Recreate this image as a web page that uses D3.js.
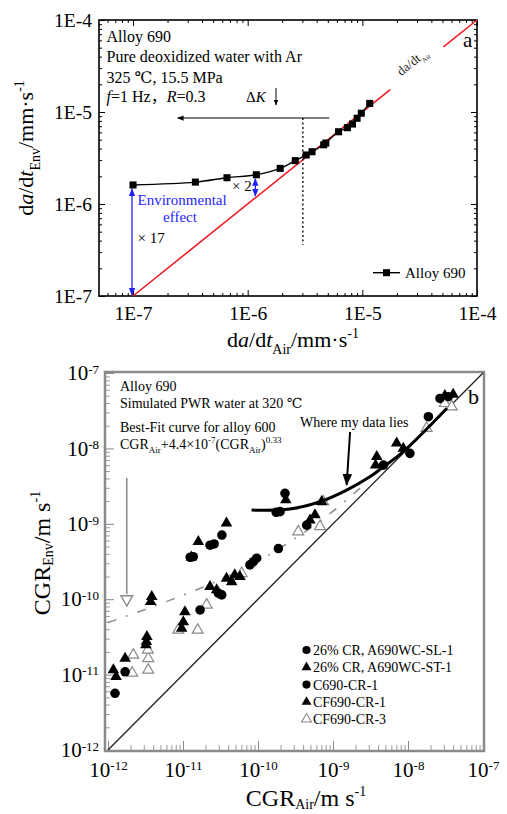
<!DOCTYPE html>
<html>
<head>
<meta charset="utf-8">
<script src="https://cdn.jsdelivr.net/npm/d3@7"></script>
<style>
body { margin: 0; background: #fff; }
svg { display: block; font-family: "Liberation Serif", "Times New Roman", "DejaVu Serif", serif; }
</style>
</head>
<body>
<svg id="chart" width="507" height="814"></svg>
<script>
/*--------------------------------------------------------------------------------
----- DATA
--------------------------------------------------------------------------------*/

// Panel a : Alloy 690 crack growth rate in water vs in air
const air_a = [1e-7, 3.5e-7, 6.6e-7, 1.19e-6, 1.92e-6, 2.6e-6, 3.24e-6, 3.64e-6, 4.6e-6, 4.8e-6,
    6.2e-6, 7.4e-6, 8.2e-6, 9.0e-6, 9.8e-6, 1.16e-5];
const env_a = [1.61e-6, 1.73e-6, 1.93e-6, 2.08e-6, 2.44e-6, 2.96e-6, 3.41e-6, 3.70e-6, 4.4e-6, 4.6e-6,
    6.1e-6, 6.75e-6, 7.4e-6, 8.55e-6, 9.7e-6, 1.24e-5];
const tick_values_a = [1e-7, 1e-6, 1e-5, 1e-4];
const tick_labels_a = ["1E-7", "1E-6", "1E-5", "1E-4"];
// red da/dt_Air reference line (env = air), broken where its label sits
const red_line_a = [[1e-7, 1.75e-5], [5.1e-5, 1e-4]];

// Panel b : literature data for alloy 690
const tick_values_b = [1e-12, 1e-11, 1e-10, 1e-9, 1e-8, 1e-7];
const tick_exps_b = ["-12", "-11", "-10", "-9", "-8", "-7"];

const air_sl1 = [1.37e-11, 1.25e-11, 2.29e-11, 2.6e-11, 3.3e-11, 2.29e-10, 4.7e-9, 1.06e-8, 1.87e-8, 2.67e-8, 3.44e-8];
const env_sl1 = [3.66e-10, 3.6e-10, 5.2e-10, 5.4e-10, 7.1e-10, 2.54e-9, 6.0e-9, 8.6e-9, 2.63e-8, 4.6e-8, 4.85e-8];

const air_st1 = [1.29e-11, 1.6e-11, 3.8e-11, 2.35e-10, 3.83e-9, 3.7e-9, 7.06e-9, 8.66e-9, 3.1e-8, 4.0e-8];
const env_st1 = [3.6e-10, 5.8e-10, 1.02e-9, 2.07e-9, 7.76e-9, 6.0e-9, 1.17e-8, 1.0e-8, 5.0e-8, 5.2e-8];

const air_c1 = [1.24e-12, 1.69e-12, 1.69e-11, 2.96e-11, 3.28e-11, 7.8e-11, 8.67e-11, 9.6e-11, 1.87e-10, 1.75e-10, 1.97e-10, 4.46e-10];
const env_c1 = [5.65e-12, 1.09e-11, 7.2e-11, 1.2e-10, 1.14e-10, 2.85e-10, 3.14e-10, 3.5e-10, 4.7e-10, 1.42e-9, 1.45e-9, 9.6e-10];

const air_cf1 = [1.18e-12, 1.28e-12, 1.69e-12, 3.2e-12, 3.3e-12, 3.25e-12, 3.83e-12, 3.7e-12, 1.06e-11, 1.01e-11,
    9.6e-12, 2.29e-11, 2.81e-11, 3.8e-11, 4.46e-11, 4.9e-11, 5.75e-11, 4.93e-10, 5.75e-10, 7.06e-10];
const env_cf1 = [1.15e-11, 9.4e-12, 1.64e-11, 2.47e-11, 3.18e-11, 2.73e-11, 1.08e-10, 9.3e-11, 6.8e-11, 5.0e-11,
    4.1e-11, 1.47e-10, 1.33e-10, 1.89e-10, 1.7e-10, 2.1e-10, 1.99e-10, 1.12e-9, 1.31e-9, 1.97e-9];

const air_cf3 = [2.17e-12, 2.1e-12, 3.44e-12, 3.44e-12, 3.4e-12, 8.65e-12, 1.57e-11, 2.07e-11, 6.05e-11, 3.44e-10,
    6.7e-10, 7.4e-10, 1.77e-8, 3.1e-8, 3.83e-8];
const env_cf3 = [1.82e-11, 1.05e-11, 1.64e-11, 1.15e-11, 2.12e-11, 3.9e-11, 3.9e-11, 8.4e-11, 2.2e-10, 7.85e-10,
    9.2e-10, 1.96e-9, 1.85e-8, 3.96e-8, 3.57e-8];

// Best-fit curve for alloy 600 (dash-dot)
const fit_air_b = [1e-12, 3e-12, 1e-11, 3e-11, 1e-10, 3e-10, 1e-9, 2.5e-9];
const fit_env_b = [4.9e-11, 7.2e-11, 1.13e-10, 1.78e-10, 3.2e-10, 6.2e-10, 1.47e-9, 3.2e-9];

// "Where my data lies" thick curve
const mine_air_b = [8.2e-11, 2.67e-10, 6.7e-10, 1.52e-9, 3.1e-9, 4.7e-9, 8.6e-9, 3.3e-8];
const mine_env_b = [1.52e-9, 1.57e-9, 1.96e-9, 2.8e-9, 4.2e-9, 5.7e-9, 9.0e-9, 3.4e-8];

const legend_b = ["26% CR, A690WC-SL-1", "26% CR, A690WC-ST-1", "C690-CR-1", "CF690-CR-1", "CF690-CR-3"];

/*--------------------------------------------------------------------------------
----- HELPERS
--------------------------------------------------------------------------------*/

const svg = d3.select("#chart");
const defs = svg.append("defs");
const serif = '"Liberation Serif", "Times New Roman", serif';

// Arrow head markers
function add_marker(id, color) {
    defs.append("marker")
        .attr("id", id)
        .attr("viewBox", "0 0 10 10")
        .attr("refX", 9).attr("refY", 5)
        .attr("markerWidth", 6).attr("markerHeight", 6)
        .attr("orient", "auto-start-reverse")
        .append("path")
        .attr("d", "M0,1L10,5L0,9Z")
        .attr("fill", color);
}
add_marker("arr-blue", "#1f1fff");
add_marker("arr-black", "#000");

// Minor tick values (2..9 per decade) inside a log scale domain
function minor_ticks(scale) {
    const [lo, hi] = scale.domain();
    const out = [];
    for (let e = Math.floor(Math.log10(lo)); e <= Math.ceil(Math.log10(hi)); e++) {
        for (let k = 2; k <= 9; k++) {
            const v = k * Math.pow(10, e);
            if (v >= lo * 0.999 && v <= hi * 1.001) out.push(v);
        }
    }
    return out;
}

// Text with sub/superscripts and italics, parts = [{t, sub, sup, it, font}]
function rich_text(sel, parts, fs, small, sub_k) {
    let shift = 0;
    const k = sub_k || 0.3;
    parts.forEach(p => {
        const target = p.sub ? fs * k : (p.sup ? -fs * 0.42 : 0);
        const ts = sel.append("tspan").attr("dy", target - shift).text(p.t);
        if (p.sub || p.sup) ts.attr("font-size", small);
        if (p.it) ts.attr("font-style", "italic");
        if (p.font) ts.attr("font-family", p.font);
        shift = target;
    });
    return sel;
}

function clean_axis(g, font_size, tick_color) {
    g.attr("font-family", serif).attr("font-size", font_size);
    g.select(".domain").remove();
    g.selectAll(".tick line").attr("stroke", tick_color);
    g.selectAll(".tick text").attr("fill", "#000");
}

/*--------------------------------------------------------------------------------
----- PANEL A
--------------------------------------------------------------------------------*/

const x_a = d3.scaleLog().domain([5.05e-8, 1e-4]).range([99, 477]);
const y_a = d3.scaleLog().domain([1e-7, 1e-4]).range([296, 20]);
const g_a = svg.append("g");

// Major and minor ticks on all four sides (inward)
g_a.append("g").attr("transform", "translate(0,296)")
    .call(d3.axisBottom(x_a).tickValues(tick_values_a).tickSize(-6).tickPadding(10)
        .tickFormat(d => tick_labels_a[tick_values_a.indexOf(d)]))
    .call(g => clean_axis(g, 19.5, "#000"));
g_a.append("g").attr("transform", "translate(0,296)")
    .call(d3.axisBottom(x_a).tickValues(minor_ticks(x_a)).tickSize(-3).tickFormat(""))
    .call(g => clean_axis(g, 10, "#000"));
g_a.append("g").attr("transform", "translate(0,20)")
    .call(d3.axisTop(x_a).tickValues(tick_values_a).tickSize(-6).tickFormat(""))
    .call(g => clean_axis(g, 10, "#000"));
g_a.append("g").attr("transform", "translate(0,20)")
    .call(d3.axisTop(x_a).tickValues(minor_ticks(x_a)).tickSize(-3).tickFormat(""))
    .call(g => clean_axis(g, 10, "#000"));
g_a.append("g").attr("transform", "translate(99,0)")
    .call(d3.axisLeft(y_a).tickValues(tick_values_a).tickSize(-6).tickPadding(7)
        .tickFormat(d => tick_labels_a[tick_values_a.indexOf(d)]))
    .call(g => clean_axis(g, 19.5, "#000"));
g_a.append("g").attr("transform", "translate(99,0)")
    .call(d3.axisLeft(y_a).tickValues(minor_ticks(y_a)).tickSize(-3).tickFormat(""))
    .call(g => clean_axis(g, 10, "#000"));
g_a.append("g").attr("transform", "translate(477,0)")
    .call(d3.axisRight(y_a).tickValues(tick_values_a).tickSize(-6).tickFormat(""))
    .call(g => clean_axis(g, 10, "#000"));
g_a.append("g").attr("transform", "translate(477,0)")
    .call(d3.axisRight(y_a).tickValues(minor_ticks(y_a)).tickSize(-3).tickFormat(""))
    .call(g => clean_axis(g, 10, "#000"));

// Frame
g_a.append("rect")
    .attr("x", 99).attr("y", 20).attr("width", 378).attr("height", 276)
    .attr("fill", "none").attr("stroke", "#000").attr("stroke-width", 1.6);

// Red reference line
red_line_a.forEach(seg => {
    g_a.append("line")
        .attr("x1", x_a(seg[0])).attr("y1", y_a(seg[0]))
        .attr("x2", x_a(seg[1])).attr("y2", y_a(seg[1]))
        .attr("stroke", "#ee1c24").attr("stroke-width", 1.6);
});
const red_angle = Math.atan2(y_a(1e-5) - y_a(1e-4), x_a(1e-4) - x_a(1e-5)) * 180 / Math.PI;
rich_text(g_a.append("text")
    .attr("transform", `translate(${x_a(3.0e-5) - 2},${y_a(3.0e-5) - 3}) rotate(${-red_angle})`)
    .attr("text-anchor", "middle").attr("font-size", 13).attr("fill", "#222"),
    [{ t: "d" }, { t: "a" }, { t: "/d" }, { t: "t" }, { t: "Air", sub: true }], 13, 7);

// Dotted threshold line and the leftward arrow
g_a.append("line")
    .attr("x1", x_a(3.03e-6)).attr("x2", x_a(3.03e-6))
    .attr("y1", y_a(8.6e-6)).attr("y2", y_a(3.6e-7))
    .attr("stroke", "#000").attr("stroke-width", 1.3).attr("stroke-dasharray", "2,2.5");
g_a.append("line")
    .attr("x1", x_a(5.15e-6)).attr("x2", x_a(2.45e-7))
    .attr("y1", y_a(8.6e-6)).attr("y2", y_a(8.6e-6))
    .attr("stroke", "#000").attr("stroke-width", 1.1).attr("marker-end", "url(#arr-black)");

// Delta K label with small down arrow
rich_text(g_a.append("text").attr("x", 246).attr("y", 101.5).attr("font-size", 15),
    [{ t: "Δ" }, { t: "K", it: true }], 15, 10);
g_a.append("line")
    .attr("x1", 276).attr("x2", 276).attr("y1", 88).attr("y2", 105)
    .attr("stroke", "#000").attr("stroke-width", 1).attr("marker-end", "url(#arr-black)");

// Environmental effect arrows (blue, double headed)
[[1e-7, 1e-7, 1.61e-6], [1.19e-6, 1.19e-6, 2.08e-6]].forEach(a => {
    g_a.append("line")
        .attr("x1", x_a(a[0]) - 1).attr("x2", x_a(a[0]) - 1)
        .attr("y1", y_a(a[2]) + 4).attr("y2", y_a(a[1]) - 1)
        .attr("stroke", "#1f1fff").attr("stroke-width", 1.3)
        .attr("marker-start", "url(#arr-blue)").attr("marker-end", "url(#arr-blue)");
});
g_a.append("text").attr("x", 137.5).attr("y", 204.5).attr("font-size", 15).attr("fill", "#1f1fff").text("Environmental");
g_a.append("text").attr("x", 180).attr("y", 222).attr("font-size", 15).attr("fill", "#1f1fff")
    .attr("text-anchor", "middle").text("effect");
g_a.append("text").attr("x", 137.5).attr("y", 243).attr("font-size", 15).text("× 17");
g_a.append("text").attr("x", 232).attr("y", 191).attr("font-size", 15).text("× 2");

// Alloy 690 data: smooth line + square markers
const pts_a = d3.zip(air_a, env_a);
g_a.append("path")
    .attr("d", d3.line().x(d => x_a(d[0])).y(d => y_a(d[1])).curve(d3.curveCatmullRom)(pts_a))
    .attr("fill", "none").attr("stroke", "#000").attr("stroke-width", 1.4);
g_a.selectAll(".sq").data(pts_a).join("path")
    .attr("class", "sq")
    .attr("transform", d => `translate(${x_a(d[0])},${y_a(d[1])})`)
    .attr("d", d3.symbol().type(d3.symbolSquare).size(50))
    .attr("fill", "#000");

// Condition texts
const info_a = g_a.append("g").attr("font-size", 16);
info_a.append("text").attr("x", 106.5).attr("y", 41.5).text("Alloy 690");
info_a.append("text").attr("x", 106.5).attr("y", 61.5).text("Pure deoxidized water with Ar");
info_a.append("text").attr("x", 106.5).attr("y", 83).text("325 ℃, 15.5 MPa");
rich_text(info_a.append("text").attr("x", 106.5).attr("y", 101.5),
    [{ t: "f", it: true }, { t: "=1 Hz" }, { t: "，", font: '"Noto Sans CJK SC"' }, { t: "R", it: true }, { t: "=0.3" }], 16, 10);

// Legend and panel letter
g_a.append("line").attr("x1", 373).attr("x2", 400).attr("y1", 272.7).attr("y2", 272.7)
    .attr("stroke", "#000").attr("stroke-width", 1.4);
g_a.append("path").attr("transform", "translate(386.5,272.7)")
    .attr("d", d3.symbol().type(d3.symbolSquare).size(50)).attr("fill", "#000");
g_a.append("text").attr("x", 405).attr("y", 277.5).attr("font-size", 15).text("Alloy 690");
g_a.append("text").attr("x", 463).attr("y", 46.5).attr("font-size", 21).text("a");

// Axis titles
rich_text(g_a.append("text").attr("x", 293).attr("y", 347).attr("text-anchor", "middle").attr("font-size", 22),
    [{ t: "d" }, { t: "a", it: true }, { t: "/d" }, { t: "t", it: true }, { t: "Air", sub: true },
        { t: "/mm·s" }, { t: "-1", sup: true }], 22, 14);
rich_text(g_a.append("text").attr("transform", "translate(33,148) rotate(-90)")
    .attr("text-anchor", "middle").attr("font-size", 22),
    [{ t: "d" }, { t: "a", it: true }, { t: "/d" }, { t: "t", it: true }, { t: "Env", sub: true },
        { t: "/mm·s" }, { t: "-1", sup: true }], 22, 14);

/*--------------------------------------------------------------------------------
----- PANEL B
--------------------------------------------------------------------------------*/

const x_b = d3.scaleLog().domain([1e-12, 1e-7]).range([108, 483]);
const y_b = d3.scaleLog().domain([1e-12, 1e-7]).range([750, 373]);
const g_b = svg.append("g");

// Power-of-ten tick labels built from tspans
function power_labels(g) {
    g.selectAll(".tick text").each(function (d) {
        const t = d3.select(this);
        t.append("tspan").text("10");
        t.append("tspan").attr("dy", "-0.5em").attr("font-size", 13)
            .text(tick_exps_b[tick_values_b.indexOf(d)]);
    });
}

g_b.append("g").attr("transform", "translate(0,750)")
    .call(d3.axisBottom(x_b).tickValues(tick_values_b).tickSize(-9).tickPadding(12).tickFormat(() => ""))
    .call(g => clean_axis(g, 21, "#8a8a8a"))
    .call(power_labels);
g_b.append("g").attr("transform", "translate(0,750)")
    .call(d3.axisBottom(x_b).tickValues(minor_ticks(x_b)).tickSize(-5).tickFormat(""))
    .call(g => clean_axis(g, 10, "#9a9a9a"));
g_b.append("g").attr("transform", "translate(105,0)")
    .call(d3.axisLeft(y_b).tickValues(tick_values_b).tickSize(-9).tickPadding(6).tickFormat(() => ""))
    .call(g => clean_axis(g, 21, "#8a8a8a"))
    .call(power_labels);
g_b.append("g").attr("transform", "translate(105,0)")
    .call(d3.axisLeft(y_b).tickValues(minor_ticks(y_b)).tickSize(-5).tickFormat(""))
    .call(g => clean_axis(g, 10, "#9a9a9a"));

// Frame (grey, as in the scanned figure)
g_b.append("rect")
    .attr("x", 105).attr("y", 372).attr("width", 379).attr("height", 379)
    .attr("fill", "none").attr("stroke", "#8a8a8a").attr("stroke-width", 2.5);

// 1:1 line
g_b.append("line")
    .attr("x1", x_b(1e-12)).attr("y1", y_b(1e-12)).attr("x2", x_b(1e-7)).attr("y2", y_b(1e-7))
    .attr("stroke", "#222").attr("stroke-width", 1.3);

// Best-fit curve for alloy 600 (grey dash-dot)
g_b.append("path")
    .attr("d", d3.line().x(d => x_b(d[0])).y(d => y_b(d[1])).curve(d3.curveCatmullRom)(d3.zip(fit_air_b, fit_env_b)))
    .attr("fill", "none").attr("stroke", "#8c8c8c").attr("stroke-width", 1.5)
    .attr("stroke-dasharray", "9,10,2,10");

// Scatter series
function draw_points(air, env, type, size, fill, stroke) {
    g_b.append("g").selectAll("path").data(d3.zip(air, env)).join("path")
        .attr("transform", d => `translate(${x_b(d[0])},${y_b(d[1])})`)
        .attr("d", d3.symbol().type(type).size(size))
        .attr("fill", fill).attr("stroke", stroke).attr("stroke-width", 1.2);
}
draw_points(air_cf3, env_cf3, d3.symbolTriangle, 52, "#fff", "#8a8a8a");
draw_points(air_c1, env_c1, d3.symbolCircle, 72, "#000", "none");
draw_points(air_sl1, env_sl1, d3.symbolCircle, 72, "#000", "none");
draw_points(air_cf1, env_cf1, d3.symbolTriangle, 58, "#000", "none");
draw_points(air_st1, env_st1, d3.symbolTriangle, 58, "#000", "none");

// Thick curve where the present data lies
g_b.append("path")
    .attr("d", d3.line().x(d => x_b(d[0])).y(d => y_b(d[1])).curve(d3.curveCatmullRom)(d3.zip(mine_air_b, mine_env_b)))
    .attr("fill", "none").attr("stroke", "#000").attr("stroke-width", 3);

// Arrow annotation "Where my data lies"
g_b.append("line")
    .attr("x1", x_b(1.69e-9)).attr("y1", y_b(1.65e-8)).attr("x2", x_b(1.52e-9)).attr("y2", y_b(3.3e-9))
    .attr("stroke", "#000").attr("stroke-width", 2).attr("marker-end", "url(#arr-black)");
g_b.append("text").attr("x", 300).attr("y", 427).attr("font-size", 14).text("Where my data lies");

// Grey vertical arrow ending in an open down-triangle
g_b.append("line")
    .attr("x1", x_b(1.78e-12)).attr("x2", x_b(1.78e-12))
    .attr("y1", y_b(4.05e-9)).attr("y2", y_b(1.16e-10))
    .attr("stroke", "#8a8a8a").attr("stroke-width", 1.5);
g_b.append("path")
    .attr("transform", `translate(${x_b(1.78e-12)},${y_b(1.0e-10)}) rotate(180)`)
    .attr("d", d3.symbol().type(d3.symbolTriangle).size(60))
    .attr("fill", "#fff").attr("stroke", "#8a8a8a").attr("stroke-width", 1.4);

// Condition texts
const info_b = g_b.append("g").attr("font-size", 14);
info_b.append("text").attr("x", 120).attr("y", 390.5).text("Alloy 690");
info_b.append("text").attr("x", 120).attr("y", 407.5).text("Simulated PWR water at 320  ℃");
info_b.append("text").attr("x", 120).attr("y", 432).text("Best-Fit curve for alloy 600");
rich_text(info_b.append("text").attr("x", 120).attr("y", 449),
    [{ t: "CGR" }, { t: "Air", sub: true }, { t: "+4.4×10" }, { t: "-7", sup: true },
        { t: "(CGR" }, { t: "Air", sub: true }, { t: ")" }, { t: "0.33", sup: true }], 14, 9);
g_b.append("text").attr("x", 468).attr("y", 404).attr("font-size", 22).text("b");

// Legend
const legend_types = [d3.symbolCircle, d3.symbolTriangle, d3.symbolCircle, d3.symbolTriangle, d3.symbolTriangle];
const legend_fill = ["#000", "#000", "#000", "#000", "#fff"];
const legend_stroke = ["none", "none", "none", "none", "#8a8a8a"];
legend_b.forEach((name, i) => {
    const y = 650 + i * 17.3;
    g_b.append("path")
        .attr("transform", `translate(306.5,${y})`)
        .attr("d", d3.symbol().type(legend_types[i]).size(legend_types[i] === d3.symbolCircle ? 52 : 42))
        .attr("fill", legend_fill[i]).attr("stroke", legend_stroke[i]).attr("stroke-width", 1.1);
    g_b.append("text").attr("x", 313).attr("y", y + 5).attr("font-size", 14).text(name);
});

// Axis titles
rich_text(g_b.append("text").attr("x", 306).attr("y", 806).attr("text-anchor", "middle").attr("font-size", 24),
    [{ t: "CGR" }, { t: "Air", sub: true }, { t: "/m s" }, { t: "-1", sup: true }], 24, 14, 0.12);
rich_text(g_b.append("text").attr("transform", "translate(50,553) rotate(-90)")
    .attr("text-anchor", "middle").attr("font-size", 24),
    [{ t: "CGR" }, { t: "Env", sub: true }, { t: "/m s" }, { t: "-1", sup: true }], 24, 14, 0.12);
</script>
</body>
</html>
